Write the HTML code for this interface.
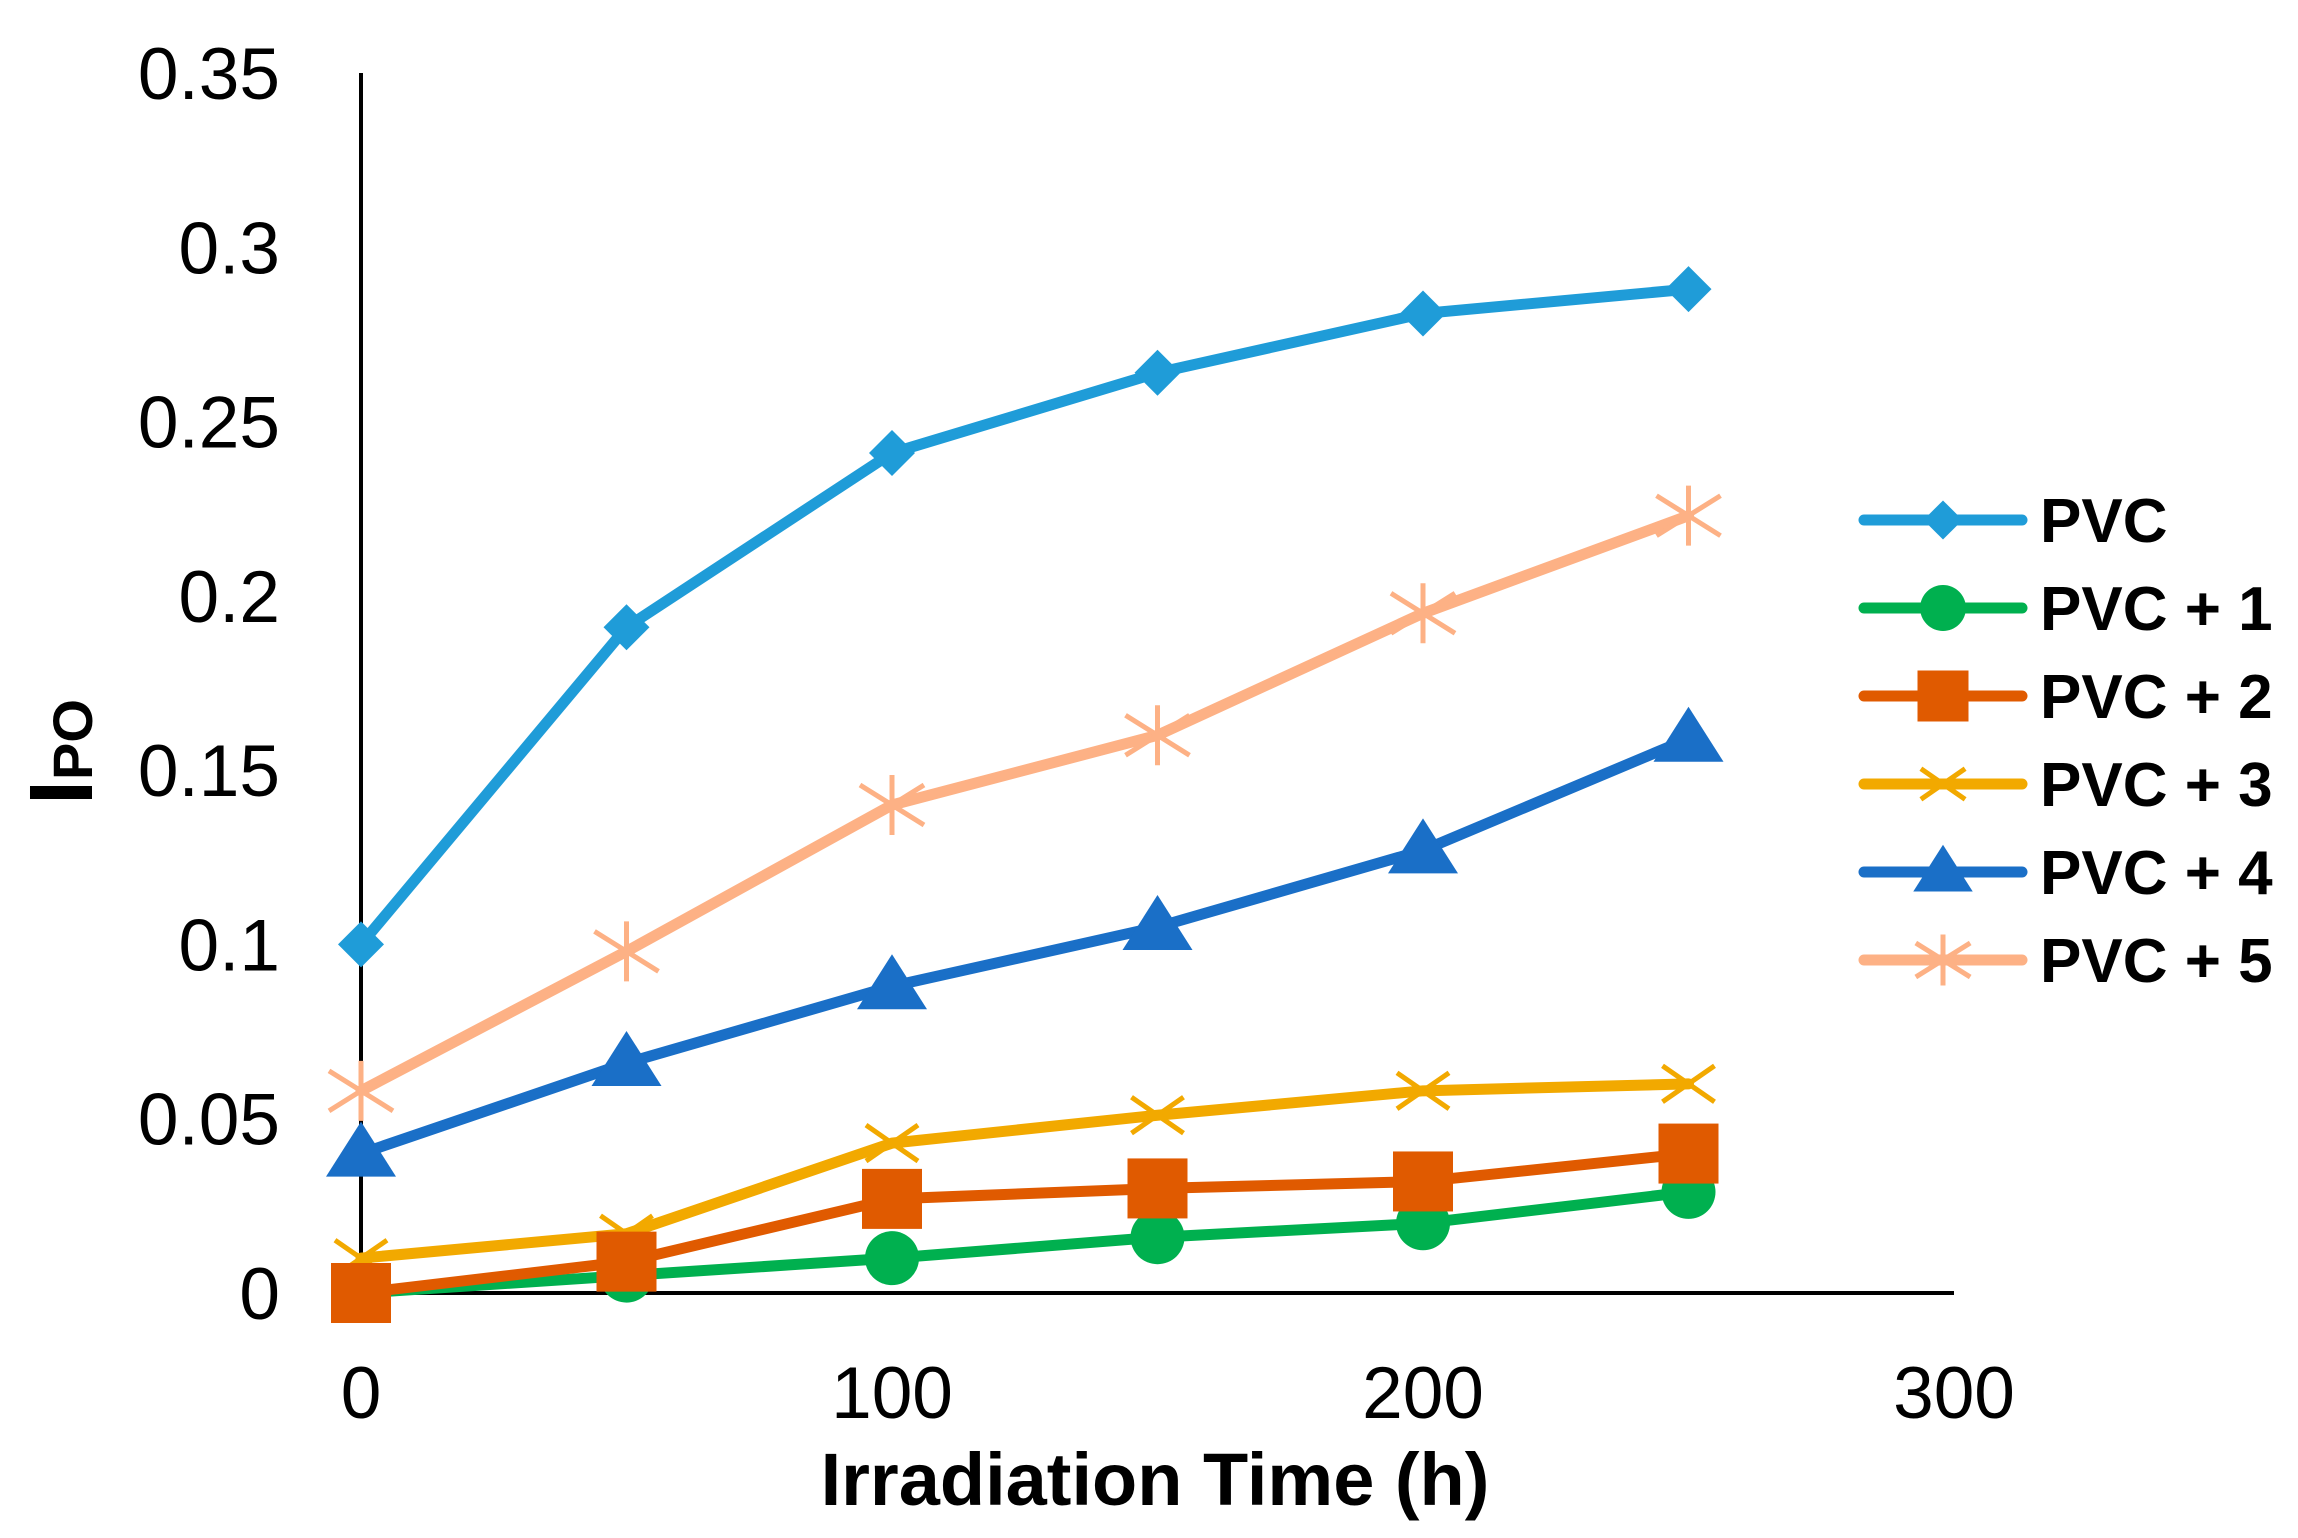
<!DOCTYPE html>
<html><head><meta charset="utf-8"><style>html,body{margin:0;padding:0;background:#fff}svg{display:block}</style></head>
<body>
<svg id="chart" width="2298" height="1538" viewBox="0 0 2298 1538" xmlns="http://www.w3.org/2000/svg" font-family="'Liberation Sans', 'DejaVu Sans', sans-serif">
<g id="axes"></g><g id="series"></g><g id="legend"></g>
</svg>
<script>
const xValues = [0, 50, 100, 150, 200, 250];
const seriesNames = ["PVC", "PVC + 1", "PVC + 2", "PVC + 3", "PVC + 4", "PVC + 5"];
const pvc  = [0.100, 0.191, 0.241, 0.264, 0.281, 0.288];
const pvc1 = [0.000, 0.005, 0.010, 0.016, 0.020, 0.029];
const pvc2 = [0.000, 0.009, 0.027, 0.030, 0.032, 0.040];
const pvc3 = [0.010, 0.017, 0.043, 0.051, 0.058, 0.060];
const pvc4 = [0.040, 0.066, 0.088, 0.105, 0.127, 0.159];
const pvc5 = [0.058, 0.098, 0.140, 0.160, 0.195, 0.223];
const yTicks = [0, 0.05, 0.1, 0.15, 0.2, 0.25, 0.3, 0.35];
const yTickLabels = ["0", "0.05", "0.1", "0.15", "0.2", "0.25", "0.3", "0.35"];
const xTicks = [0, 100, 200, 300];
const xTickLabels = ["0", "100", "200", "300"];

const NS = "http://www.w3.org/2000/svg";
const X0 = 361, X1 = 1954, Y0 = 1293, Y1 = 73;
const xs = v => X0 + (v / 300) * (X1 - X0);
const ys = v => Y0 - (v / 0.35) * (Y0 - Y1);
function mk(tag, attrs, parent) {
  const e = document.createElementNS(NS, tag);
  for (const k in attrs) e.setAttribute(k, attrs[k]);
  parent.appendChild(e); return e;
}
const axes = document.getElementById("axes");
const yAxis = mk("line", {x1: X0, y1: Y1, x2: X0, y2: Y0, stroke: "#000", "stroke-width": 4}, axes);


const xAxis = mk("line", {x1: X0, y1: Y0, x2: X1, y2: Y0, stroke: "#000", "stroke-width": 4}, axes);


yTicks.forEach((t, i) => {
  const el = mk("text", {x: 280, y: ys(t) + 26, "text-anchor": "end", "font-size": 73, fill: "#000"}, axes);
  el.textContent = yTickLabels[i];
  
  
});
xTicks.forEach((t, i) => {
  const el = mk("text", {x: xs(t), y: 1418, "text-anchor": "middle", "font-size": 73, fill: "#000"}, axes);
  el.textContent = xTickLabels[i];
  
  
});
const xt = mk("text", {x: 1155, y: 1505, "text-anchor": "middle", "font-size": 74, "font-weight": "bold", fill: "#000"}, axes);
xt.textContent = "Irradiation Time (h)";


const yt = mk("text", {transform: "translate(92,805) rotate(-90)", "text-anchor": "start", "font-size": 90, "font-weight": "bold", fill: "#000"}, axes);
yt.innerHTML = 'I<tspan font-size="56">PO</tspan>';



const colors = ["#1F9CD8", "#00B04F", "#E05A00", "#F2A900", "#1A6FC7", "#FDB185"];
const markers = ["diamond", "circle", "square", "x", "triangle", "star"];
const data = [pvc, pvc1, pvc2, pvc3, pvc4, pvc5];
function marker(type, cx, cy, c, g, s) {
  let e;
  if (type === "diamond") e = mk("polygon", {points: `${cx},${cy-23*s} ${cx+23*s},${cy} ${cx},${cy+23*s} ${cx-23*s},${cy}`, fill: c}, g);
  else if (type === "circle") e = mk("circle", {cx, cy, r: 27*s, fill: c}, g);
  else if (type === "square") e = mk("rect", {x: cx-30*s, y: cy-30*s, width: 60*s, height: 60*s, fill: c}, g);
  else if (type === "triangle") e = mk("polygon", {points: `${cx},${cy-32*s} ${cx+35*s},${cy+23*s} ${cx-35*s},${cy+23*s}`, fill: c}, g);
  else if (type === "x") e = mk("path", {d: `M${cx-26*s},${cy-18*s}L${cx+26*s},${cy+18*s}M${cx-26*s},${cy+18*s}L${cx+26*s},${cy-18*s}`, stroke: c, "stroke-width": 5, fill: "none"}, g);
  else e = mk("path", {d: `M${cx-32*s},${cy-20*s}L${cx+32*s},${cy+20*s}M${cx-32*s},${cy+20*s}L${cx+32*s},${cy-20*s}M${cx},${cy-30*s}L${cx},${cy+30*s}`, stroke: c, "stroke-width": 5, fill: "none"}, g);
  return e;
}
const sg = document.getElementById("series");
const order = [0, 5, 4, 3, 1, 2];
order.forEach(i => {
  const g = mk("g", {}, sg);
  
  
  const pts = xValues.map((x, j) => `${xs(x)},${ys(data[i][j])}`).join(" ");
  const pl = mk("polyline", {points: pts, fill: "none", stroke: colors[i], "stroke-width": 11, "stroke-linejoin": "round", "stroke-linecap": "round"}, g);
  
  
  xValues.forEach((x, j) => {
    const m = marker(markers[i], xs(x), ys(data[i][j]), colors[i], g, 1);
    
    
  });
});
const lg = document.getElementById("legend");


seriesNames.forEach((n, i) => {
  const y = 520 + i * 88;
  const g = mk("g", {}, lg);
  
  
  mk("line", {x1: 1864, y1: y, x2: 2022, y2: y, stroke: colors[i], "stroke-width": 11, "stroke-linecap": "round"}, g);
  marker(markers[i], 1943, y, colors[i], g, 0.85);
  const t = mk("text", {x: 2040, y: y + 22, "font-size": 62, "font-weight": "bold", fill: "#000"}, g);
  t.textContent = n;
});
</script>
</body></html>
